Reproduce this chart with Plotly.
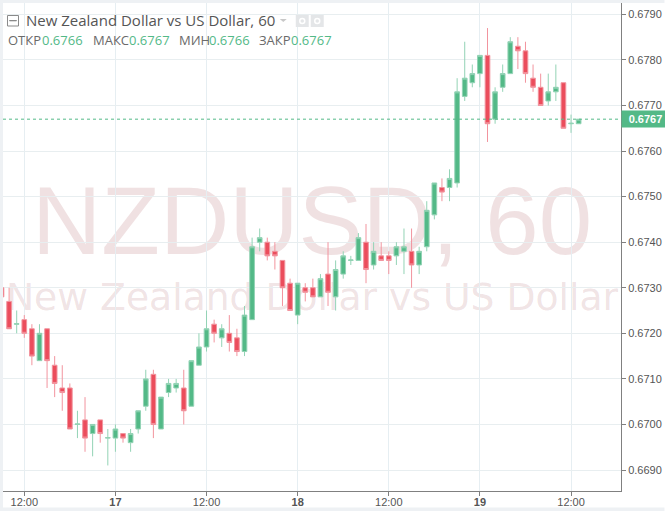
import plotly.graph_objects as go

# 2h bars, NZDUSD
bars = list(range(77))
open_ = [0.6730, 0.6727, 0.6722, 0.6723, 0.6721, 0.6714, 0.6721, 0.6713, 0.6708, 0.6708, 0.6700,
         0.6701, 0.6698, 0.6701, 0.6697, 0.6697, 0.6698, 0.6696, 0.6699, 0.6704, 0.6711, 0.6699,
         0.6707, 0.6708, 0.6708, 0.6704, 0.6713, 0.6717, 0.6722, 0.6719, 0.6720, 0.6719, 0.6716,
         0.6723, 0.6740, 0.6740, 0.6738, 0.6736, 0.6731, 0.6724, 0.6730, 0.6730, 0.6728, 0.6733,
         0.6728, 0.6733, 0.6736, 0.6736, 0.6740, 0.6735, 0.6737, 0.6737, 0.6737, 0.6738, 0.6738,
         0.6735, 0.6739, 0.6746, 0.6752, 0.6752, 0.6753, 0.6772, 0.6775, 0.6777, 0.6781, 0.6767,
         0.6774, 0.6777, 0.6783, 0.6782, 0.6776, 0.6774, 0.6771, 0.6773, 0.6775, 0.6766, 0.6766]
high = [0.6730, 0.6730, 0.6725, 0.6724, 0.6722, 0.6722, 0.6721, 0.6715, 0.6713, 0.6709, 0.6703,
        0.6706, 0.6700, 0.6701, 0.6699, 0.6700, 0.6698, 0.6699, 0.6703, 0.6712, 0.6712, 0.6706,
        0.6710, 0.6710, 0.6712, 0.6714, 0.6720, 0.6725, 0.6723, 0.6722, 0.6724, 0.6721, 0.6726,
        0.6741, 0.6743, 0.6741, 0.6740, 0.6736, 0.6732, 0.6731, 0.6731, 0.6732, 0.6733, 0.6740,
        0.6736, 0.6738, 0.6737, 0.6742, 0.6744, 0.6740, 0.6740, 0.6738, 0.6740, 0.6743, 0.6743,
        0.6739, 0.6749, 0.6753, 0.6754, 0.6756, 0.6776, 0.6784, 0.6779, 0.6781, 0.6787, 0.6774,
        0.6779, 0.6785, 0.6785, 0.6784, 0.6779, 0.6777, 0.6777, 0.6779, 0.6775, 0.6768, 0.6767]
low = [0.6728, 0.6721, 0.6720, 0.6719, 0.6713, 0.6714, 0.6708, 0.6706, 0.6703, 0.6699, 0.6697,
       0.6694, 0.6693, 0.6696, 0.6691, 0.6694, 0.6696, 0.6694, 0.6698, 0.6703, 0.6697, 0.6699,
       0.6706, 0.6707, 0.6700, 0.6704, 0.6713, 0.6716, 0.6718, 0.6717, 0.6716, 0.6715, 0.6715,
       0.6723, 0.6738, 0.6736, 0.6734, 0.6726, 0.6725, 0.6722, 0.6727, 0.6728, 0.6728, 0.6726,
       0.6725, 0.6732, 0.6735, 0.6736, 0.6731, 0.6734, 0.6736, 0.6733, 0.6735, 0.6733, 0.6730,
       0.6733, 0.6738, 0.6745, 0.6749, 0.6749, 0.6752, 0.6771, 0.6774, 0.6774, 0.6762, 0.6766,
       0.6773, 0.6777, 0.6778, 0.6775, 0.6773, 0.6770, 0.6770, 0.6771, 0.6765, 0.6764, 0.6766]
close = [0.6728, 0.6721, 0.67221, 0.6720, 0.6715, 0.6720, 0.6714, 0.6709, 0.6707, 0.6699, 0.67001,
         0.6697, 0.6700, 0.6698, 0.66971, 0.6699, 0.6697, 0.6698, 0.6703, 0.6710, 0.6700, 0.6706,
         0.6709, 0.6709, 0.6703, 0.6714, 0.6717, 0.6721, 0.6720, 0.6721, 0.6718, 0.6716, 0.6724,
         0.6739, 0.6741, 0.6737, 0.6737, 0.6730, 0.6725, 0.6731, 0.6729, 0.6728, 0.6732, 0.6729,
         0.6734, 0.6737, 0.67361, 0.6741, 0.6734, 0.6738, 0.6736, 0.6736, 0.6739, 0.6739, 0.6735,
         0.6738, 0.6747, 0.6753, 0.6751, 0.6754, 0.6773, 0.6776, 0.6777, 0.6781, 0.6766, 0.6773,
         0.6777, 0.6784, 0.6782, 0.6777, 0.6774, 0.6770, 0.6773, 0.6774, 0.6765, 0.67661, 0.6767]

y_ticks = [0.6690, 0.6700, 0.6710, 0.6720, 0.6730, 0.6740, 0.6750, 0.6760, 0.6770, 0.6780, 0.6790]
x_ticks = [3, 15, 27, 39, 51, 63, 75]
x_labels = ["12:00", "<b>17</b>", "12:00", "<b>18</b>", "12:00", "<b>19</b>", "12:00"]
last_price = 0.6767
header_values = [("ОТКР", "0.6766", 7, 41), ("МАКС", "0.6767", 92, 128),
                 ("МИН", "0.6766", 178, 208), ("ЗАКР", "0.6767", 258, 290)]

GREEN = "#53b987"
RED = "#eb4d5c"
W, H = 665, 511
L, R, T, B = 3, 621.5, 3, 491


def px(x):
    return (x - L) / (R - L)


def py(y):
    return (B - y) / (B - T)


def box(x0, y0, x1, y1, **kw):
    return dict(type="rect", xref="paper", yref="paper", x0=px(x0), x1=px(x1), y0=py(y0), y1=py(y1), **kw)


def label(x, y, text, size, color, family="Open Sans", anchor="left"):
    return dict(xref="paper", yref="paper", x=px(x), y=py(y), text=text, showarrow=False,
                xanchor=anchor, yanchor="middle", borderpad=0,
                font=dict(size=size, color=color, family=family))


fig = go.Figure()
fig.add_candlestick(
    x=bars, open=open_, high=high, low=low, close=close,
    increasing=dict(fillcolor=GREEN, line=dict(color="#93d3b5", width=1)),
    decreasing=dict(fillcolor=RED, line=dict(color="#f2949e", width=1)),
    whiskerwidth=0, hoverinfo="skip",
)

shapes = [
    # watermark, under the candles
    box(L, 161, R, 261, line_width=0, fillcolor="rgba(0,0,0,0)", layer="below",
        label=dict(text="NZDUSD, 60", textposition="middle center",
                   font=dict(size=96, color="rgba(170,90,95,0.18)", family="Liberation Sans"))),
    box(L, 272, R, 317, line_width=0, fillcolor="rgba(0,0,0,0)", layer="below",
        label=dict(text="New Zealand Dollar vs US Dollar", textposition="middle center",
                   font=dict(size=37.7, color="rgba(170,90,95,0.18)", family="DejaVu Sans"))),
    # page edges
    box(0, 0, L, H, line_width=0, fillcolor="#eef1f4"),
    box(0, 0, W, T, line_width=0, fillcolor="#eef1f4"),
    box(0, 507.5, W, H + 3, line_width=0, fillcolor="#eef1f4"),
    # last price line
    dict(type="line", xref="paper", yref="y", x0=0, x1=1, y0=last_price, y1=last_price,
         line=dict(color=GREEN, width=1, dash="dot")),
    # header icons
    box(7.5, 15.5, 18.5, 26, line=dict(color="#8a8a8a", width=1), fillcolor="white"),
    box(9.5, 20.5, 16.5, 20.8, line=dict(color="#8a8a8a", width=1)),
    box(296, 15, 309, 27, line_width=0, fillcolor="#e4e6e8"),
    box(311, 15, 324, 27, line_width=0, fillcolor="#e4e6e8"),
    dict(type="circle", xref="paper", yref="paper", x0=px(300), x1=px(305), y0=py(18.5), y1=py(23.5),
         line=dict(color="white", width=1.5)),
    dict(type="circle", xref="paper", yref="paper", x0=px(315), x1=px(320), y0=py(18.5), y1=py(23.5),
         line=dict(color="white", width=1.5)),
    dict(type="path", xref="paper", yref="paper", line_width=0, fillcolor="#c8c8c8",
         path=f"M {px(280)} {py(19)} L {px(287)} {py(19)} L {px(283.5)} {py(22)} Z"),
]

annotations = [label(25, 19.5, "New Zealand Dollar vs US Dollar, 60", 15, "#555555")]
for name, value, x_name, x_value in header_values:
    annotations.append(label(x_name, 40, name, 13, "#6a6a6a"))
    annotations.append(label(x_value, 40, value, 13, "#53b987"))

# price tag on the scale
annotations.append(dict(xref="paper", yref="y", x=px(621), y=last_price, text="<b>0.6767</b>", showarrow=False,
                        xanchor="left", yanchor="middle", bgcolor=GREEN, borderpad=2, width=43,
                        font=dict(size=11, color="white", family="Liberation Sans")))

fig.update_layout(
    width=W, height=H + 3,
    margin=dict(l=L, r=W - R, t=T, b=H + 3 - B),
    paper_bgcolor="white", plot_bgcolor="white",
    showlegend=False, boxgap=0.12,
    shapes=shapes, annotations=annotations,
    xaxis=dict(range=[0.197, 81.58], tickvals=x_ticks, ticktext=x_labels, showgrid=True,
               gridcolor="#e6eef2", showline=True, linecolor="#808080", ticks="outside",
               ticklen=4, tickcolor="#808080", rangeslider_visible=False, zeroline=False,
               ticklabelstandoff=-3,
               tickfont=dict(size=11, color="#555555", family="Liberation Sans")),
    yaxis=dict(range=[0.668539, 0.67925], side="right", tickvals=y_ticks, tickformat=".4f", showgrid=True,
               gridcolor="#e8eef0", showline=True, linecolor="#808080", ticks="outside",
               ticklen=4, tickcolor="#808080", zeroline=False,
               tickfont=dict(size=11, color="#555555", family="Liberation Sans")),
)

fig.write_html("out.html", config=dict(displayModeBar=False),
               post_script="document.body.style.margin='0';")
